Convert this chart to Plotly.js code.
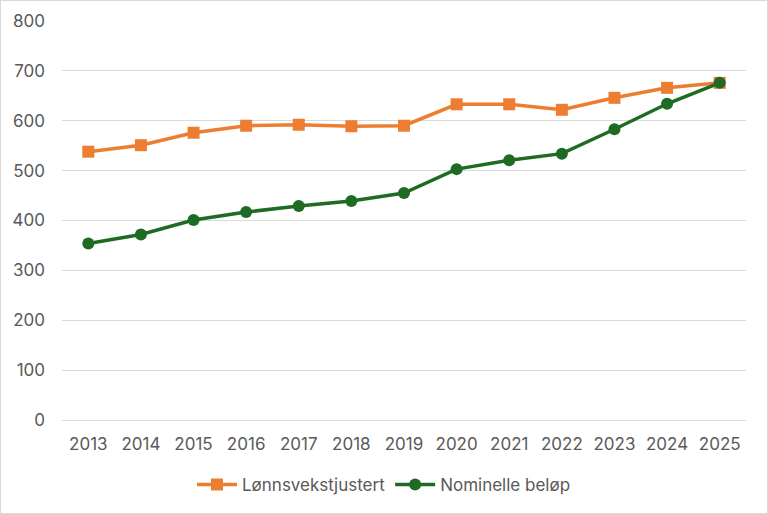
<!DOCTYPE html>
<html>
<head>
<meta charset="utf-8">
<script src="https://cdn.plot.ly/plotly-3.0.1.min.js"></script>
<style>
html,body{margin:0;padding:0;background:#fff;}
#chart{width:766px;height:512px;border:1px solid #d9d9d9;}
</style>
</head>
<body>
<div id="chart"></div>
<script>
const years = ["2013","2014","2015","2016","2017","2018","2019","2020","2021","2022","2023","2024","2025"];
const lonnsvekstjustert = [538, 551, 576, 590, 592, 589, 590, 633, 633, 622, 646, 666, 676];
const nominelle = [354, 372, 401, 417, 429, 439, 455, 503, 521, 534, 583, 634, 676];
const seriesNames = ["Lønnsvekstjustert", "Nominelle beløp"];

const traces = [
  {
    x: years, y: lonnsvekstjustert, name: seriesNames[0], type: "scatter", mode: "lines+markers",
    line: {color: "#ED7D31", width: 3.5},
    marker: {symbol: "square", size: 12, color: "#ED7D31"}
  },
  {
    x: years, y: nominelle, name: seriesNames[1], type: "scatter", mode: "lines+markers",
    line: {color: "#1E6B23", width: 3.5},
    marker: {symbol: "circle", size: 12, color: "#1E6B23"}
  }
];

const layout = {
  width: 766, height: 512,
  margin: {l: 61, r: 21, t: 20, b: 93, autoexpand: false},
  paper_bgcolor: "#ffffff", plot_bgcolor: "#ffffff",
  font: {family: "Inter, 'Open Sans', sans-serif", size: 17, color: "#595959"},
  xaxis: {
    type: "category", range: [-0.5, 12.5], showgrid: false, zeroline: false,
    showline: false, ticks: "", tickfont: {size: 17, color: "#595959"},
    ticklabelstandoff: 12, automargin: false
  },
  yaxis: {
    range: [0, 800], dtick: 100, showgrid: true, gridcolor: "#d9d9d9", gridwidth: 1,
    zeroline: true, zerolinecolor: "#d9d9d9", zerolinewidth: 1,
    showline: false, ticks: "", tickfont: {size: 17, color: "#595959"},
    ticklabelstandoff: 16, automargin: false
  },
  legend: {
    orientation: "h", x: 0.5, xanchor: "center", xref: "container",
    y: 0.055, yanchor: "middle", yref: "container",
    font: {size: 17, color: "#595959"}, itemwidth: 40
  },
  showlegend: true
};

Plotly.newPlot("chart", traces, layout, {displayModeBar: false, staticPlot: true});
</script>
</body>
</html>
